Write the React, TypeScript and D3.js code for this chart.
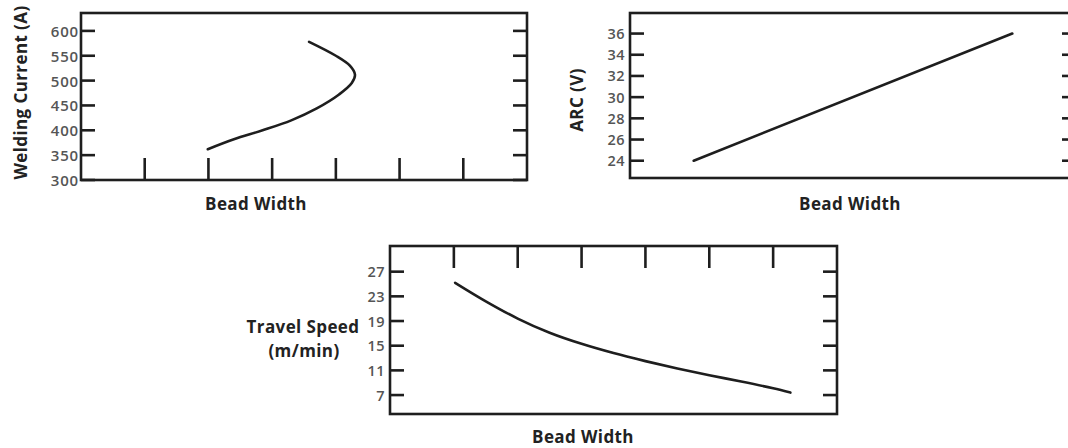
import React from "react";
import * as d3 from "d3";

// ---- data ----
const beadTicks = [1, 2, 3, 4, 5, 6];

const currentTicks = [300, 350, 400, 450, 500, 550, 600];
const currentWidth = [1.99, 2.4, 2.85, 3.3, 3.7, 4.05, 4.25, 4.3, 4.22, 4.0, 3.58];
const currentValues = [362, 382, 400, 420, 444, 472, 495, 512, 530, 550, 578];

const arcTicks = [24, 26, 28, 30, 32, 34, 36];
const arcWidth = [1, 6];
const arcValues = [24, 36];

const speedTicks = [7, 11, 15, 19, 23, 27];
const speedWidth = [1.02, 1.5, 2.0, 2.5, 3.0, 3.5, 4.0, 4.5, 5.0, 5.5, 6.0, 6.27];
const speedValues = [25.2, 22.2, 19.4, 17.1, 15.3, 13.8, 12.5, 11.3, 10.2, 9.2, 8.1, 7.4];

const INK = "#1e1e1e";
const LABEL = "#555";
const FONT = "'Open Sans', 'DejaVu Sans', sans-serif";

type PanelProps = {
  x0: number; x1: number; y0: number; y1: number;
  yDomain: [number, number];
  yTicks: number[];
  xs: number[]; ys: number[];
  xTicks: "bottom" | "top" | "none";
  labelGap: number;
  labelSize: number;
  labelSpacing: number;
};

function Panel(p: PanelProps) {
  const x = d3.scaleLinear().domain([0, 7]).range([p.x0, p.x1]);
  const y = d3.scaleLinear().domain(p.yDomain).range([p.y1, p.y0]);
  const pts: [number, number][] = p.xs.map((v, i) => [v, p.ys[i]]);
  const line = d3.line<[number, number]>()
    .x(d => x(d[0]))
    .y(d => y(d[1]))
    .curve(d3.curveCatmullRom.alpha(0.5));
  const tl = 14;
  const xtl = 22;
  return (
    <g>
      <rect x={p.x0} y={p.y0} width={p.x1 - p.x0} height={p.y1 - p.y0}
        fill="none" stroke={INK} strokeWidth={2.6} />
      {p.yTicks.map(t => (
        <g key={"y" + t}>
          <line x1={p.x0} x2={p.x0 + tl} y1={y(t)} y2={y(t)} stroke={INK} strokeWidth={2.6} />
          <line x1={p.x1} x2={p.x1 - tl} y1={y(t)} y2={y(t)} stroke={INK} strokeWidth={2.6} />
          <text x={p.x0 - p.labelGap} y={y(t)} textAnchor="end" dominantBaseline="central"
            fontFamily={FONT} fontSize={p.labelSize} letterSpacing={p.labelSpacing}
            fill={LABEL} fontWeight={600}>{t}</text>
        </g>
      ))}
      {p.xTicks !== "none" && beadTicks.map(t => (
        <line key={"x" + t} x1={x(t)} x2={x(t)}
          y1={p.xTicks === "bottom" ? p.y1 : p.y0}
          y2={p.xTicks === "bottom" ? p.y1 - xtl : p.y0 + xtl}
          stroke={INK} strokeWidth={2.6} />
      ))}
      <path d={line(pts) || ""} fill="none" stroke={INK} strokeWidth={2.6} strokeLinecap="round" />
    </g>
  );
}

export default function App() {
  const titleProps = {
    fontFamily: FONT, fontWeight: 700, fill: "#222", fontSize: 17, letterSpacing: 0.4,
  } as const;
  return (
    <svg width={1068} height={448} style={{ position: "absolute", left: 0, top: 0, background: "#fff" }}>
      <Panel x0={81} x1={527} y0={13} y1={180} yDomain={[300, 636]} yTicks={currentTicks}
        xs={currentWidth} ys={currentValues} xTicks="bottom" labelGap={2} labelSize={15} labelSpacing={0.8} />
      <Panel x0={630} x1={1076} y0={13} y1={178} yDomain={[22.37, 37.94]} yTicks={arcTicks}
        xs={arcWidth} ys={arcValues} xTicks="none" labelGap={5} labelSize={14.5} labelSpacing={0.5} />
      <Panel x0={390} x1={837} y0={246} y1={414} yDomain={[3.93, 31.16]} yTicks={speedTicks}
        xs={speedWidth} ys={speedValues} xTicks="top" labelGap={5} labelSize={14.5} labelSpacing={0.5} />

      <text {...titleProps} transform="translate(20,92.5) rotate(-90)" textAnchor="middle" dominantBaseline="central">Welding Current (A)</text>
      <text {...titleProps} x={256} y={210} textAnchor="middle">Bead Width</text>

      <text {...titleProps} transform="translate(576,100) rotate(-90)" textAnchor="middle" dominantBaseline="central">ARC (V)</text>
      <text {...titleProps} x={850} y={210} textAnchor="middle">Bead Width</text>

      <text {...titleProps} x={303} y={333} textAnchor="middle">Travel Speed</text>
      <text {...titleProps} x={304} y={357} textAnchor="middle">(m/min)</text>
      <text {...titleProps} x={583} y={443} textAnchor="middle">Bead Width</text>
    </svg>
  );
}
